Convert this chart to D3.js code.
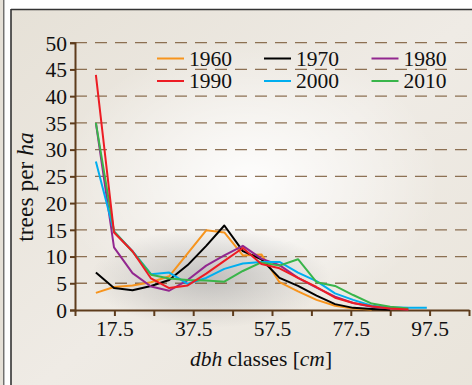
<!DOCTYPE html>
<html><head><meta charset="utf-8">
<script src="https://cdn.jsdelivr.net/npm/d3@7/dist/d3.min.js"></script>
<style>body{margin:0;background:#fff}svg{display:block}</style>
</head><body><svg id="c" width="472" height="385"></svg>
<script>
// dbh class positions (cm) as read from the plotted points
const dbh = [12.8,17.4,22.1,26.8,31.4,36.1,40.8,45.4,50.1,54.8,59.4,64.1,68.8,73.5,78.1,82.8,87.5,92.1,96.8];
const years = ["1960","1970","1980","1990","2000","2010"];
const s1960 = [3.2,4.3,4.6,5.2,6.3,10.6,14.9,14.5,10.2,10.4,5.2,3.5,1.9,0.8,0.3,0.1];
const s1970 = [7.0,4.1,3.7,4.5,5.6,8.4,12.0,15.8,11.0,9.5,6.0,4.5,2.7,1.1,0.4,0.2,0.05];
const s1980 = [35,11.7,6.9,4.4,3.6,5.6,8.3,10.2,12.0,9.6,8.4,6.0,4.2,2.5,1.3,0.6,0.3,0.1];
const s1990 = [44,14.5,11.0,5.9,4.1,4.6,6.8,9.2,11.6,8.6,7.8,6.0,4.3,2.3,1.3,0.7,0.3,0.1];
const s2000 = [27.8,14.7,11.0,6.7,7.0,4.9,6.0,7.7,8.7,9.0,9.0,7.0,5.4,3.1,1.9,0.8,0.5,0.4,0.4];
const s2010 = [35,14.7,10.9,6.6,5.9,5.6,5.5,5.3,7.3,8.9,8.3,9.5,5.2,4.5,2.8,1.2,0.6,0.3];
const yTicks = [0,5,10,15,20,25,30,35,40,45,50];
const xTicks = [7.5,17.5,27.5,37.5,47.5,57.5,67.5,77.5,87.5,97.5,107.5];
const xLabels = [17.5,37.5,57.5,77.5,97.5];

const colors = {"1960":"#f7941d","1970":"#000000","1980":"#92278f","1990":"#ed1c24","2000":"#00aeef","2010":"#39b54a"};
const seriesMap = {"1960":s1960,"1970":s1970,"1980":s1980,"1990":s1990,"2000":s2000,"2010":s2010};

const svg = d3.select("#c");
const defs = svg.append("defs");
const lg = defs.append("linearGradient").attr("id","bg").attr("x1","0").attr("y1","0").attr("x2","1").attr("y2","1");
lg.append("stop").attr("offset","0").attr("stop-color","#e6e1d7");
lg.append("stop").attr("offset","0.5").attr("stop-color","#efebe5");
lg.append("stop").attr("offset","1").attr("stop-color","#e9e4da");
const rg = defs.append("radialGradient").attr("id","glow");
rg.append("stop").attr("offset","0").attr("stop-color","#ffffff").attr("stop-opacity",0.9);
rg.append("stop").attr("offset","1").attr("stop-color","#ffffff").attr("stop-opacity",0);
const sg = defs.append("radialGradient").attr("id","shade");
sg.append("stop").attr("offset","0").attr("stop-color","#8f8f8f").attr("stop-opacity",0.5);
sg.append("stop").attr("offset","1").attr("stop-color","#8f8f8f").attr("stop-opacity",0);

// outer frame
svg.append("rect").attr("x",0).attr("y",0).attr("width",4).attr("height",385).attr("fill","#e6e1d8");
svg.append("line").attr("x1",3.8).attr("x2",3.8).attr("y1",0).attr("y2",385).attr("stroke","#555").attr("stroke-width",1.2);
svg.append("rect").attr("x",11).attr("y",9.5).attr("width",470).attr("height",400).attr("fill","url(#bg)");
svg.append("ellipse").attr("cx",250).attr("cy",180).attr("rx",190).attr("ry",140).attr("fill","url(#glow)");
svg.append("ellipse").attr("cx",210).attr("cy",278).attr("rx",120).attr("ry",50).attr("fill","url(#shade)");
svg.append("line").attr("x1",11).attr("x2",11).attr("y1",9).attr("y2",385).attr("stroke","#333").attr("stroke-width",1.6);
svg.append("line").attr("x1",11).attr("x2",472).attr("y1",9.5).attr("y2",9.5).attr("stroke","#333").attr("stroke-width",1.4);

const x = d3.scaleLinear().domain([7.5,107.5]).range([75,469]);
const y = d3.scaleLinear().domain([0,50]).range([310,42.7]);
const brown = "#5e3c1c";
const font = "Liberation Serif";
const fs = 21.5;

// grid
svg.append("g").selectAll("line").data(yTicks.filter(d=>d>0)).join("line")
  .attr("x1",75).attr("x2",472).attr("y1",d=>y(d)).attr("y2",d=>y(d))
  .attr("stroke","#7b5a38").attr("stroke-opacity",0.85).attr("stroke-width",1.3).attr("stroke-dasharray","12,8");

// y axis
const ya = svg.append("g").attr("transform","translate(75,0)")
  .call(d3.axisLeft(y).tickValues(yTicks).tickSize(5).tickPadding(3).tickFormat(d3.format("d")));
ya.select(".domain").attr("stroke",brown).attr("stroke-width",2);
ya.selectAll(".tick line").attr("stroke",brown).attr("stroke-width",2);
ya.selectAll(".tick text").attr("font-family",font).attr("font-size",fs).attr("fill","#111").attr("dy","0.34em");

// x axis
const xa = svg.append("g").attr("transform","translate(0,310)")
  .call(d3.axisBottom(x).tickValues(xTicks).tickSize(6).tickSizeOuter(0).tickPadding(5)
    .tickFormat(d=> xLabels.includes(d) ? d3.format(".1f")(d) : ""));
xa.select(".domain").attr("stroke",brown).attr("stroke-width",2);
xa.selectAll(".tick line").attr("stroke",brown).attr("stroke-width",2);
xa.selectAll(".tick text").attr("font-family",font).attr("font-size",fs).attr("fill","#111");

// lines
const line = d3.line().x((d,i)=>x(dbh[i])).y(d=>y(d));
const order = ["1960","1970","1980","2000","2010","1990"];
svg.append("g").selectAll("path").data(order).join("path")
  .attr("d",k=>line(seriesMap[k])).attr("fill","none")
  .attr("stroke",k=>colors[k]).attr("stroke-width",2).attr("stroke-linejoin","round");

// legend
const legPos = [[157,58.5],[264,58.5],[371.5,58.5],[157,81],[264,81],[371.5,81]];
const leg = svg.append("g").selectAll("g").data(years).join("g")
  .attr("transform",(d,i)=>`translate(${legPos[i][0]},${legPos[i][1]})`);
leg.append("line").attr("x1",0).attr("x2",27).attr("y1",0).attr("y2",0)
  .attr("stroke",d=>colors[d]).attr("stroke-width",2);
leg.append("text").attr("x",32).attr("y",7).text(d=>d)
  .attr("font-family",font).attr("font-size",fs).attr("fill","#111");

// axis titles
const yt = svg.append("text").attr("transform","translate(33,187) rotate(-90)")
  .attr("text-anchor","middle").attr("font-family",font).attr("font-size",23.5).attr("fill","#111");
yt.append("tspan").text("trees per ");
yt.append("tspan").attr("font-style","italic").text("ha");
const xt = svg.append("text").attr("x",261).attr("y",366)
  .attr("text-anchor","middle").attr("font-family",font).attr("font-size",fs).attr("fill","#111");
xt.append("tspan").attr("font-style","italic").text("dbh");
xt.append("tspan").text(" classes [");
xt.append("tspan").attr("font-style","italic").text("cm");
xt.append("tspan").text("]");
</script></body></html>
